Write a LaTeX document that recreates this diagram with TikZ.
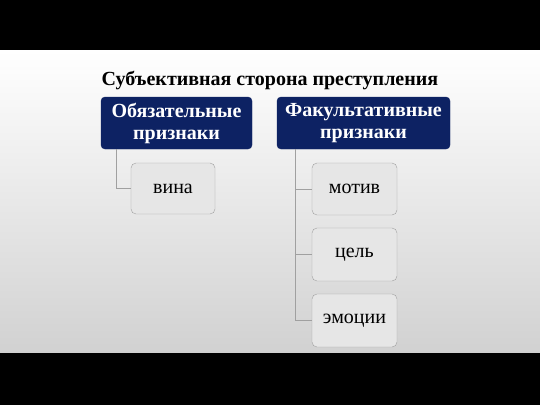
\documentclass[tikz,border=0pt]{standalone}
\usepackage{fontspec}
\setmainfont{Liberation Serif}
\definecolor{navy}{HTML}{0D2263}
\definecolor{pale}{HTML}{E6E6E6}
\definecolor{edge}{HTML}{A0A0A0}
\begin{document}
\begin{tikzpicture}[x=1pt,y=-1pt,
		head/.style={draw=navy,fill=navy,rounded corners=4pt,text=white,font=\fontsize{20}{22}\selectfont\bfseries,align=center,inner sep=0pt},
		leaf/.style={draw=edge,fill=pale,rounded corners=5pt,font=\fontsize{20}{22}\selectfont,inner sep=0pt},
		link/.style={draw=edge,line width=0.8pt}]
		\useasboundingbox (0,0) rectangle (540,405);
		\fill [black] (0,0) rectangle (540,50);
		\shade [top color=white,bottom color=black!18] (0,50) rectangle (540,353);
		\fill [black] (0,353) rectangle (540,405);
		\node (title) at (270,80) {\fontsize{20}{24}\selectfont\bfseries Субъективная сторона преступления};
		\node [head,minimum width=151pt,minimum height=52pt] (must) at (176.5,123) {Обязательные\\признаки};
		\node [head,minimum width=173pt,minimum height=52pt] (may) at (363.5,123) {Факультативные\\признаки};
		\node [leaf,minimum width=84pt,minimum height=51pt] (guilt) at (173,188.5) {вина};
		\node [leaf,minimum width=85pt,minimum height=52pt] (motive) at (354.5,189) {мотив};
		\node [leaf,minimum width=85pt,minimum height=53pt] (goal) at (354.5,254.5) {цель};
		\node [leaf,minimum width=85pt,minimum height=53pt] (emotion) at (354.5,320.5) {эмоции};
		\draw [link] (must.south -| 116,0) |- (guilt.west);
		\draw [link] (may.south -| 295,0) |- (motive.west);
		\draw [link] (may.south -| 295,0) |- (goal.west);
		\draw [link] (may.south -| 295,0) |- (emotion.west);
\end{tikzpicture}
\end{document}
